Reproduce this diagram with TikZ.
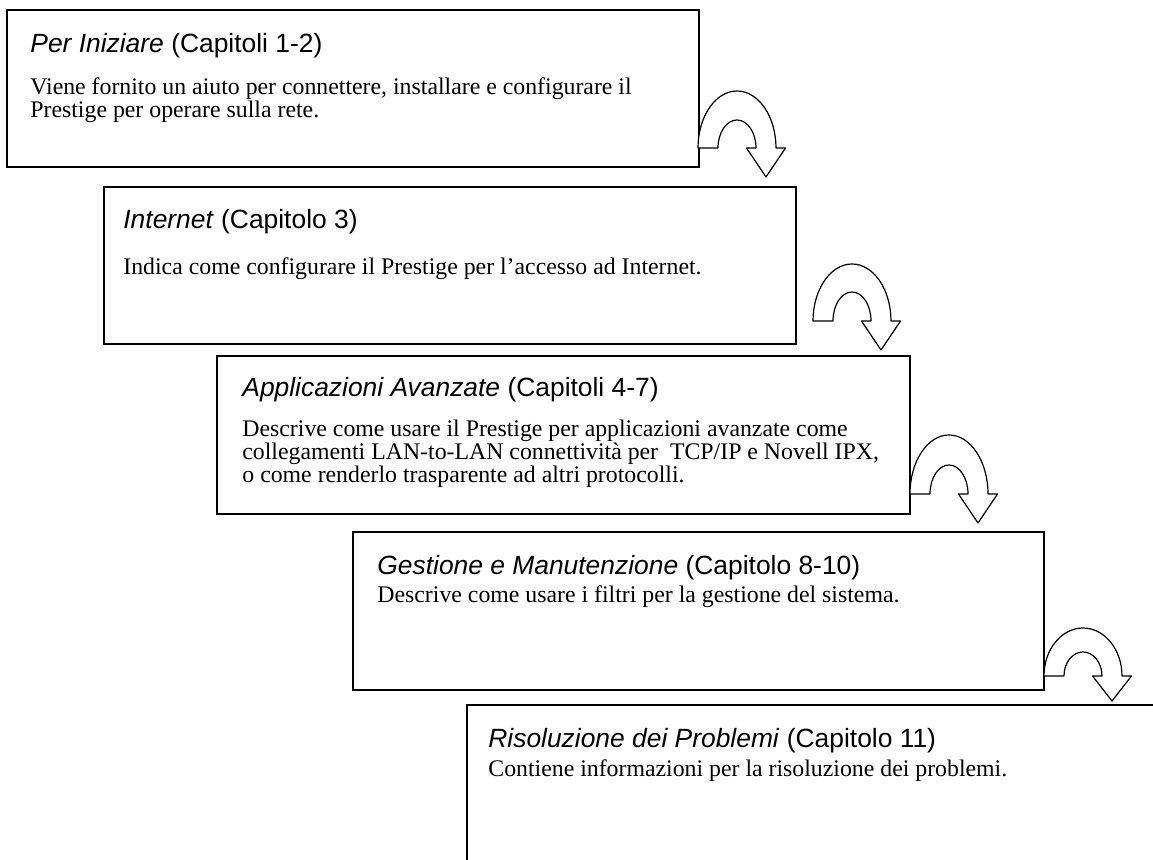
\documentclass[tikz,border=0pt]{standalone}
\usepackage{fontspec}
\setmainfont{Liberation Serif}
\newfontfamily\arialfont{Liberation Sans}
\usetikzlibrary{positioning}

\newcommand{\bodyfont}{\fontsize{11.9}{11.5}\selectfont\lineskiplimit=-20pt\relax}

% U-turn block arrow: base left corner (px), outer height, inner height, head length (px)
\newcommand{\uturn}[4]{%
  \draw[uturn] (#1) arc[start angle=180,end angle=0,x radius=19.5pt,y radius=#2]
    -- ++(9.5,0) -- ++(-19.5,#4) -- ++(-19.5,-#4) -- ++(9.5,0)
    arc[start angle=0,end angle=180,x radius=9.5pt,y radius=#3] -- cycle;}

\begin{document}
\begin{tikzpicture}[x=0.5pt,y=-0.5pt,
  box/.style={draw,line width=0.85pt,anchor=north west,inner sep=0pt,outer sep=0pt},
  head/.style={anchor=base west,inner sep=0pt,font=\arialfont\fontsize{13.2}{15}\selectfont},
  body/.style={anchor=base west,inner sep=0pt,align=left,font=\bodyfont},
  uturn/.style={draw,fill=white,line width=0.6pt,line join=round}]
  \useasboundingbox (0,0) rectangle (1153,860);
  \clip (0,0) rectangle (1153,860);

  \node (b1) [box,minimum width=346pt,minimum height=78.5pt] at (7,10) {};
  \node (t1) [head] at (30,53) {\textit{Per Iniziare} (Capitoli 1-2)};
  % multi-line body: base is the last line
  \node (d1) [body] at (30,118) {Viene fornito un aiuto per connettere, installare e configurare il\\
    Prestige per operare sulla rete.};

  \node (b2) [box,minimum width=346pt,minimum height=78.5pt] at (104,187) {};
  \node (t2) [head] at (123,229) {\textit{Internet} (Capitolo 3)};
  \node (d2) [body] at (123,275) {Indica come configurare il Prestige per l’accesso ad Internet.};

  \node (b3) [box,minimum width=346.5pt,minimum height=79pt] at (217,356) {};
  \node (t3) [head] at (242,397) {\textit{Applicazioni Avanzate} (Capitoli 4-7)};
  \node (d3) [body] at (242,483) {Descrive come usare il Prestige per applicazioni avanzate come\\
    collegamenti LAN-to-LAN connettività per~ TCP/IP e Novell IPX,\\
    o come renderlo trasparente ad altri protocolli.};

  \node (b4) [box,minimum width=345.5pt,minimum height=79pt] at (353,532) {};
  \node (t4) [head] at (377,575) {\textit{Gestione e Manutenzione} (Capitolo 8-10)};
  \node (d4) [body] at (377,603) {Descrive come usare i filtri per la gestione del sistema.};

  \node (b5) [box,minimum width=360pt,minimum height=100pt] at (467,705) {};
  \node (t5) [head] at (488,748) {\textit{Risoluzione dei Problemi} (Capitolo 11)};
  \node (d5) [body] at (488,777) {Contiene informazioni per la risoluzione dei problemi.};

  \coordinate (u1) at (698,148);
  \coordinate (u2) at (813,321);
  \coordinate (u3) at (910,494);
  \coordinate (u4) at (1044,676);
  \uturn{u1}{28.5pt}{14pt}{29}
  \uturn{u2}{28.5pt}{14.5pt}{29}
  \uturn{u3}{29.5pt}{14.5pt}{29}
  \uturn{u4}{24pt}{12pt}{25}
\end{tikzpicture}
\end{document}
